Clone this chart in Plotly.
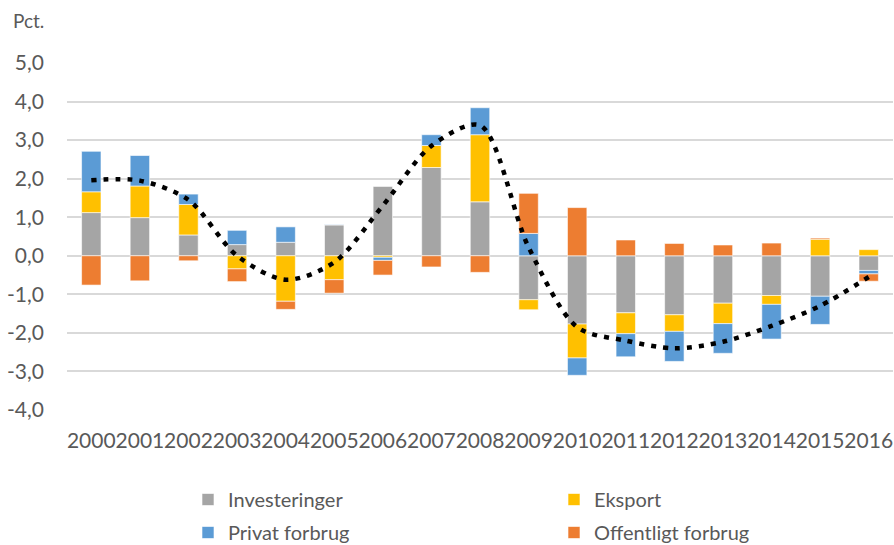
"""Bidrag til vækst: stablede søjler med samlet udvikling som prikket linje."""

import plotly.graph_objects as go

YEARS = [str(y) for y in range(2000, 2017)]

INVESTERINGER = [1.12, 0.99, 0.54, 0.29, 0.35, 0.80, 1.80, 2.29, 1.40, -1.14, -1.77,
                 -1.48, -1.53, -1.23, -1.03, -1.05, -0.38]
EKSPORT = [0.54, 0.82, 0.79, -0.34, -1.18, -0.62, -0.04, 0.57, 1.74, -0.26, -0.88,
           -0.54, -0.43, -0.53, -0.23, 0.43, 0.16]
PRIVAT_FORBRUG = [1.05, 0.79, 0.27, 0.37, 0.40, 0.01, -0.08, 0.28, 0.70, 0.58, -0.45,
                  -0.60, -0.78, -0.77, -0.90, -0.73, -0.09]
OFFENTLIGT_FORBRUG = [-0.76, -0.65, -0.13, -0.33, -0.21, -0.35, -0.38, -0.29, -0.43, 1.04,
                      1.25, 0.41, 0.32, 0.28, 0.33, 0.03, -0.19]
SAMLET = [1.96, 1.95, 1.45, 0.0, -0.62, -0.17, 1.30, 2.85, 3.38, 0.22, -1.85, -2.20,
          -2.40, -2.23, -1.82, -1.30, -0.55]

Y_TICKS = [5, 4, 3, 2, 1, 0, -1, -2, -3, -4]
Y_TICK_LABELS = ["5,0", "4,0", "3,0", "2,0", "1,0", "0,0", "-1,0", "-2,0", "-3,0", "-4,0"]

# (navn, værdier, farve, legende-kolonne)
SERIES = [
    ("Investeringer", INVESTERINGER, "#A5A5A5", "legend"),
    ("Eksport", EKSPORT, "#FFC000", "legend2"),
    ("Privat forbrug", PRIVAT_FORBRUG, "#5B9BD5", "legend"),
    ("Offentligt forbrug", OFFENTLIGT_FORBRUG, "#ED7D31", "legend2"),
]

FONT = "Lato, 'Open Sans', sans-serif"
TEXT_COLOR = "#595959"
PLOT_W = 826
PLOT_H = 347

fig = go.Figure()
for name, values, color, legend in SERIES:
    fig.add_trace(
        go.Bar(
            x=YEARS,
            y=values,
            name=name,
            legend=legend,
            legendgroup=name,
            marker={"color": color, "line": {"color": "white", "width": 0.6}},
        )
    )

fig.add_trace(
    go.Scatter(
        x=YEARS,
        y=SAMLET,
        mode="lines",
        line={"color": "black", "width": 4.5, "dash": "5px,7px", "shape": "spline", "smoothing": 0.85},
        showlegend=False,
        hoverinfo="skip",
    )
)

legend_style = {
    "orientation": "v",
    "y": -70 / PLOT_H,
    "xanchor": "left",
    "yanchor": "top",
    "font": {"size": 20, "color": TEXT_COLOR},
    "traceorder": "grouped",
    "tracegroupgap": 4,
    "bgcolor": "rgba(0,0,0,0)",
}

fig.update_layout(
    width=894,
    height=545,
    barmode="relative",
    bargap=0.6,
    plot_bgcolor="white",
    paper_bgcolor="white",
    margin={"l": 67, "r": 1, "t": 63, "b": 135, "autoexpand": False},
    font={"family": FONT, "color": TEXT_COLOR, "size": 20},
    legend={**legend_style, "x": 121 / PLOT_W},
    legend2={**legend_style, "x": 487 / PLOT_W},
    annotations=[
        {
            "text": "Pct.",
            "xref": "paper",
            "yref": "paper",
            "x": -56 / PLOT_W,
            "y": 1 + 43 / PLOT_H,
            "xanchor": "left",
            "yanchor": "middle",
            "showarrow": False,
            "font": {"size": 19, "color": TEXT_COLOR},
        }
    ],
)

fig.update_xaxes(
    type="category",
    showgrid=False,
    showline=False,
    ticks="",
    tickangle=0,
    ticklabelstandoff=16,
    tickfont={"size": 21, "color": TEXT_COLOR},
)
fig.update_yaxes(
    range=[-4, 5],
    tickvals=Y_TICKS,
    ticktext=Y_TICK_LABELS,
    showgrid=True,
    gridcolor="#D9D9D9",
    gridwidth=1.5,
    zeroline=False,
    showline=False,
    ticks="",
    ticklabelstandoff=22,
    tickfont={"size": 21, "color": TEXT_COLOR},
)

# siden må ikke have body-margin, ellers forskydes figuren 8px
fig.write_html(
    "out.html",
    config={"displayModeBar": False},
    post_script="document.body.style.margin='0';document.body.style.overflow='hidden';",
)
